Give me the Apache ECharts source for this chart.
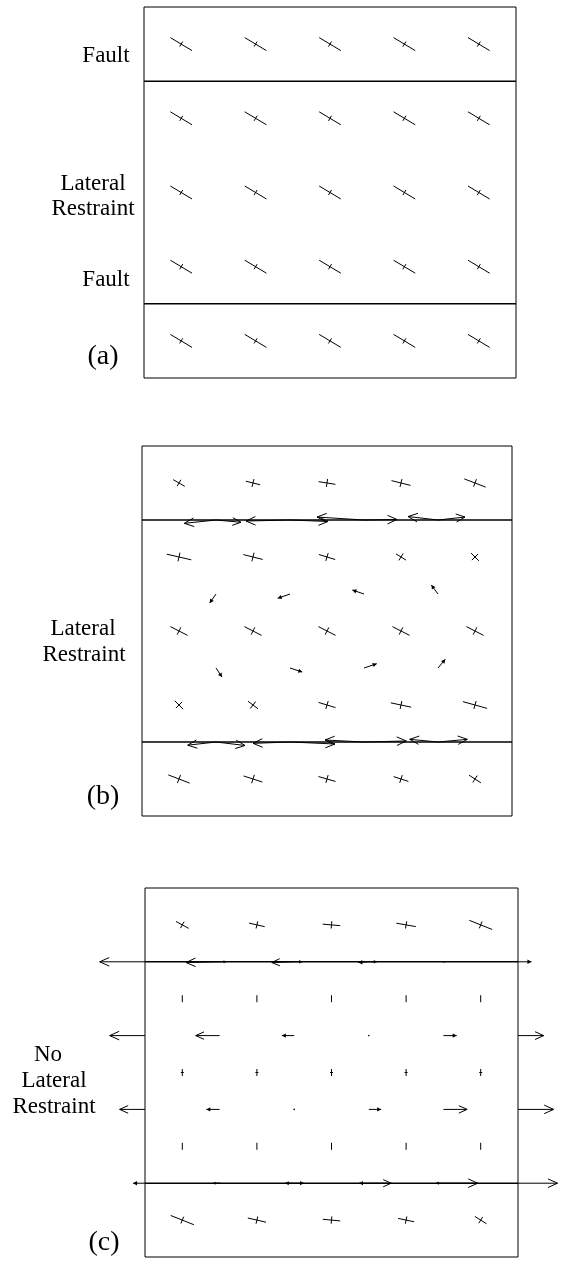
<!DOCTYPE html>
<html><head><meta charset="utf-8">
<script src="https://cdn.jsdelivr.net/npm/echarts@6/dist/echarts.min.js"></script>
<style>html,body{margin:0;padding:0;background:#fff}#c{width:561px;height:1263px}</style>
</head><body><div id="c"></div>
<script>
// ---------- data ----------
const columns = [1, 2, 3, 4, 5];
const rows = [1, 2, 3, 4, 5];
const faultRows = [1.5, 4.5];
const axisMin = 0.5, axisMax = 5.5;

// strain crosses per row: [angle (deg, down-right), long axis, short axis] in grid units
const strainA = [
  [[31,0.34,0.08],[31,0.34,0.08],[31,0.34,0.08],[31,0.34,0.08],[31,0.34,0.08]],
  [[31,0.34,0.08],[31,0.34,0.08],[31,0.34,0.08],[31,0.34,0.08],[31,0.34,0.08]],
  [[31,0.34,0.08],[31,0.34,0.08],[31,0.34,0.08],[31,0.34,0.08],[31,0.34,0.08]],
  [[31,0.34,0.08],[31,0.34,0.08],[31,0.34,0.08],[31,0.34,0.08],[31,0.34,0.08]],
  [[31,0.34,0.08],[31,0.34,0.08],[31,0.34,0.08],[31,0.34,0.08],[31,0.34,0.08]]
];
const strainB = [
  [[30,0.18,0.10],[14,0.20,0.11],[9,0.23,0.11],[14,0.265,0.11],[21,0.31,0.11]],
  [[13,0.34,0.12],[14,0.27,0.12],[17,0.23,0.11],[32,0.16,0.11],[45,0.15,0.12]],
  [[27,0.26,0.11],[27,0.26,0.11],[27,0.26,0.11],[27,0.26,0.11],[27,0.26,0.11]],
  [[45,0.16,0.12],[37,0.17,0.12],[17,0.24,0.11],[12,0.28,0.11],[15.5,0.34,0.11]],
  [[21,0.31,0.12],[18,0.265,0.12],[16,0.24,0.11],[18,0.21,0.11],[33,0.19,0.11]]
];
const strainC = [
  [[29,0.195,0.10],[13,0.215,0.10],[5,0.235,0.10],[10,0.265,0.10],[22,0.33,0.10]],
  [[0,0,0.095],[0,0,0.095],[0,0,0.095],[0,0,0.095],[0,0,0.095]],
  [[0,0.04,0.095],[0,0.04,0.095],[0,0.04,0.095],[0,0.04,0.095],[0,0.04,0.095]],
  [[0,0,0.095],[0,0,0.095],[0,0,0.095],[0,0,0.095],[0,0,0.095]],
  [[22,0.335,0.10],[13,0.25,0.10],[5.5,0.235,0.10],[12,0.22,0.10],[32,0.185,0.10]]
];

// displacement arrows: [tail x, tail y, dx, dy] in grid units
const arrowsB = [
  [1.5,2.5,-0.085,0.122],[2.5,2.5,-0.166,0.058],[3.5,2.5,-0.157,-0.054],[4.5,2.5,-0.09,-0.122],
  [1.5,3.5,0.081,0.122],[2.5,3.5,0.166,0.054],[3.5,3.5,0.172,-0.058],[4.5,3.5,0.099,-0.118]
];
const faultArrowsB = [
  [1.5,1.5,-0.428,0.045],[1.5,1.5,0.338,0.031],
  [2.5,1.5,-0.595,0.014],[2.5,1.5,0.514,0.02],
  [3.5,1.5,-0.635,-0.04],[3.5,1.5,0.446,-0.007],
  [4.5,1.5,-0.405,-0.047],[4.5,1.5,0.365,-0.04],
  [1.5,4.5,-0.382,0.043],[1.5,4.5,0.392,0.047],
  [2.5,4.5,-0.5,0.018],[2.5,4.5,0.608,0.027],
  [3.5,4.5,-0.527,-0.027],[3.5,4.5,0.572,-0.014],
  [4.5,4.5,-0.382,-0.036],[4.5,4.5,0.396,-0.036]
];
const arrowsC = [
  [0.5,2.5,-0.473,0],[1.5,2.5,-0.32,0],[2.5,2.5,-0.165,0],[3.5,2.5,0,0],[4.5,2.5,0.178,0],[5.5,2.5,0.345,0],
  [0.5,3.5,-0.34,0],[1.5,3.5,-0.178,0],[2.5,3.5,0,0],[3.5,3.5,0.166,0],[4.5,3.5,0.318,0],[5.5,3.5,0.478,0]
];
const faultArrowsC = [
  [0.5,1.5,-0.607,0],[5.5,1.5,0.18,0],
  [1.5,1.5,-0.45,0.01],[1.5,1.5,0.087,0],
  [2.5,1.5,-0.3,0.01],[2.5,1.5,0.11,0],
  [3.5,1.5,-0.14,0.01],[3.5,1.5,0.11,0],
  [4.5,1.5,-0.02,0],[4.5,1.5,0.03,0],
  [0.5,4.5,-0.16,0],[5.5,4.5,0.53,0],
  [1.5,4.5,-0.09,0],[1.5,4.5,0.01,0],
  [2.5,4.5,-0.12,0],[2.5,4.5,0.13,0],
  [3.5,4.5,-0.13,0],[3.5,4.5,0.3,0],
  [4.5,4.5,-0.1,0],[4.5,4.5,0.46,0]
];

const labelsA = ['Fault', 'Lateral', 'Restraint', 'Fault', '(a)'];
const labelsB = ['Lateral', 'Restraint', '(b)'];
const labelsC = ['No', 'Lateral', 'Restraint', '(c)'];

// ---------- rendering ----------
function strainData(table) {
  const out = [];
  table.forEach((row, i) => row.forEach((v, j) => out.push([columns[j], rows[i], v[0], v[1], v[2]])));
  return out;
}
function strainRender(params, api) {
  const x = api.value(0), y = api.value(1), a = api.value(2) * Math.PI / 180;
  const L = api.value(3), S = api.value(4);
  const c = Math.cos(a), s = Math.sin(a);
  const ch = [];
  if (L > 0) {
    const p1 = api.coord([x - c * L / 2, y - s * L / 2]), p2 = api.coord([x + c * L / 2, y + s * L / 2]);
    ch.push({type: 'line', shape: {x1: p1[0], y1: p1[1], x2: p2[0], y2: p2[1]}, style: {stroke: '#000', lineWidth: 1}});
  }
  if (S > 0) {
    const q1 = api.coord([x + s * S / 2, y - c * S / 2]), q2 = api.coord([x - s * S / 2, y + c * S / 2]);
    ch.push({type: 'line', shape: {x1: q1[0], y1: q1[1], x2: q2[0], y2: q2[1]}, style: {stroke: '#000', lineWidth: 1}});
  }
  return {type: 'group', children: ch};
}
function arrowRender(params, api) {
  const x = api.value(0), y = api.value(1), dx = api.value(2), dy = api.value(3);
  const p0 = api.coord([x, y]), p1 = api.coord([x + dx, y + dy]);
  const vx = p1[0] - p0[0], vy = p1[1] - p0[1];
  const len = Math.hypot(vx, vy);
  if (len < 2) {
    return {type: 'circle', shape: {cx: p0[0], cy: p0[1], r: 0.8}, style: {fill: '#000'}};
  }
  const ux = vx / len, uy = vy / len;
  const ch = [{type: 'line', shape: {x1: p0[0], y1: p0[1], x2: p1[0], y2: p1[1]}, style: {stroke: '#000', lineWidth: 1}}];
  if (len < 16) {
    const h = Math.min(4, len * 0.4), w = h * 0.55;
    ch.push({type: 'polygon', shape: {points: [
      [p1[0], p1[1]],
      [p1[0] - ux * h - uy * w, p1[1] - uy * h + ux * w],
      [p1[0] - ux * h + uy * w, p1[1] - uy * h - ux * w]]}, style: {fill: '#000'}});
  } else {
    const h = Math.min(9.5, 0.2 * len + 3.5), w = h * 0.45;
    ch.push({type: 'polyline', shape: {points: [
      [p1[0] - ux * h - uy * w, p1[1] - uy * h + ux * w],
      [p1[0], p1[1]],
      [p1[0] - ux * h + uy * w, p1[1] - uy * h - ux * w]]}, style: {stroke: '#000', lineWidth: 1, fill: 'none'}});
  }
  return {type: 'group', children: ch};
}
function faultRender(params, api) {
  const y = api.value(0);
  const p1 = api.coord([axisMin, y]), p2 = api.coord([axisMax, y]);
  return {type: 'line', shape: {x1: p1[0], y1: p1[1], x2: p2[0], y2: p2[1]}, style: {stroke: '#000', lineWidth: 1.5}};
}

const grids = [
  {left: 144, top: 7, width: 372, height: 371},
  {left: 142, top: 446, width: 370, height: 370},
  {left: 145, top: 888, width: 373, height: 369}
].map(g => Object.assign(g, {show: true, borderColor: '#000', borderWidth: 1, backgroundColor: 'transparent'}));

const xAxes = [0, 1, 2].map(i => ({type: 'value', gridIndex: i, min: axisMin, max: axisMax, show: false}));
const yAxes = [0, 1, 2].map(i => ({type: 'value', gridIndex: i, min: axisMin, max: axisMax, inverse: true, show: false}));

const series = [];
function add(i, data, render) {
  series.push({type: 'custom', xAxisIndex: i, yAxisIndex: i, clip: false, silent: true,
    data: data, renderItem: render, animation: false});
}
add(0, faultRows.map(v => [v]), faultRender);
add(1, faultRows.map(v => [v]), faultRender);
add(2, faultRows.map(v => [v]), faultRender);
add(0, strainData(strainA), strainRender);
add(1, strainData(strainB), strainRender);
add(2, strainData(strainC), strainRender);
add(1, arrowsB, arrowRender);
add(1, faultArrowsB, arrowRender);
add(2, arrowsC, arrowRender);
add(2, faultArrowsC, arrowRender);

const FONT = '23px "Liberation Serif", "Times New Roman", serif';
const FONT_BIG = '28px "Liberation Serif", "Times New Roman", serif';
function txt(t, x, y, font) {
  return {type: 'text', x: x, y: y, silent: true,
    style: {text: t, fill: '#000', font: font || FONT, align: 'center', verticalAlign: 'middle',
      textAlign: 'center', textVerticalAlign: 'middle'}};
}
const graphic = [
  txt(labelsA[0], 106, 56), txt(labelsA[1], 93, 184), txt(labelsA[2], 93, 209),
  txt(labelsA[3], 106, 280), txt(labelsA[4], 103, 357, FONT_BIG),
  txt(labelsB[0], 83, 629), txt(labelsB[1], 84, 655), txt(labelsB[2], 103, 797, FONT_BIG),
  txt(labelsC[0], 48, 1055), txt(labelsC[1], 54, 1081), txt(labelsC[2], 54, 1107),
  txt(labelsC[3], 104, 1243, FONT_BIG)
];

const chart = echarts.init(document.getElementById('c'), null, {renderer: 'canvas'});
chart.setOption({
  animation: false,
  backgroundColor: '#fff',
  grid: grids,
  xAxis: xAxes,
  yAxis: yAxes,
  series: series,
  graphic: graphic
});
</script></body></html>
